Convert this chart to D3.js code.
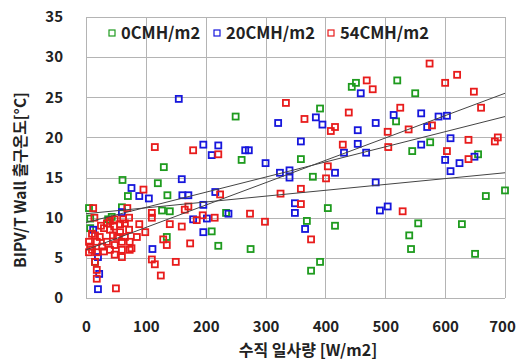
<!DOCTYPE html>
<html>
<head>
<meta charset="utf-8">
<script src="https://cdn.jsdelivr.net/npm/d3@7"></script>
<style>
  html, body { margin: 0; padding: 0; background: #fff; }
  svg text { font-family: "Noto Sans CJK KR", "Noto Sans", sans-serif; font-weight: bold; fill: #222; }
</style>
</head>
<body>
<div id="container"></div>
<script>
// series: [irradiance W/m2, outlet temp C]
const series0 = [
    [5, 11.2], [7, 9.9], [7, 8.7], [15, 4.5], [37, 9.8], [43, 10.1], [60, 11.3], [61, 14.7],
    [70, 12.7], [120, 14.3], [127, 10.9], [130, 16.3], [136, 12.8], [140, 10.8], [135, 7.6],
    [210, 8.3], [221, 6.5], [234, 10.6], [250, 22.6], [260, 17.2], [275, 6.1], [359, 17.3],
    [369, 9.6], [376, 3.4], [379, 15.1], [391, 23.6], [391, 4.5], [404, 11.2], [416, 9.0],
    [444, 26.3], [451, 26.8], [518, 22.0], [520, 27.1], [540, 7.8], [543, 6.1], [545, 18.3],
    [550, 25.5], [555, 9.3], [575, 19.4], [628, 9.2], [650, 5.5], [655, 17.9], [668, 12.7],
    [700, 13.4]
];
const series20 = [
    [12, 8.5], [20, 5.1], [22, 3.0], [20, 1.1], [60, 10.7], [76, 13.7], [89, 12.7], [105, 12.4],
    [111, 6.1], [155, 24.8], [160, 14.8], [161, 12.8], [171, 12.8], [179, 9.8], [196, 19.1],
    [196, 11.6], [196, 8.2], [202, 9.9], [210, 17.8], [216, 13.2], [221, 19.0], [238, 10.5],
    [266, 18.4], [272, 18.4], [300, 16.8], [321, 21.8], [324, 15.6], [340, 15.9], [340, 15.0],
    [349, 11.8], [349, 10.6], [359, 19.5], [366, 8.6], [384, 22.5], [395, 21.6], [416, 15.6],
    [431, 18.1], [454, 20.9], [454, 19.2], [459, 25.5], [468, 18.1], [484, 21.8], [484, 14.4],
    [491, 10.9], [504, 11.4], [514, 22.8], [560, 23.0], [560, 19.1], [570, 21.3], [589, 22.6],
    [600, 17.2], [603, 22.7], [609, 19.9], [609, 15.8], [624, 16.8], [649, 17.6]
];
const series54 = [
    [5, 7.0], [7, 6.4], [5, 5.7], [12, 11.2], [14, 10.0], [15, 7.8], [18, 7.0], [18, 5.7],
    [23, 7.6], [27, 6.4], [30, 8.7], [35, 9.3], [35, 7.0], [40, 6.0], [47, 8.9], [48, 9.8],
    [48, 6.6], [48, 5.4], [52, 7.6], [57, 9.2], [57, 8.2], [60, 7.0], [60, 6.0], [60, 5.1],
    [65, 9.3], [69, 11.2], [72, 10.0], [72, 8.5], [73, 7.0], [73, 6.0], [76, 6.2], [85, 7.6],
    [89, 9.2], [96, 13.5], [99, 8.2], [110, 10.6], [110, 10.0], [110, 4.8], [115, 4.2],
    [125, 2.8], [129, 7.3], [135, 6.6], [140, 9.2], [150, 4.5], [160, 8.9], [165, 11.0],
    [171, 11.4], [174, 6.8], [185, 9.7], [195, 10.3], [215, 10.0], [224, 12.9], [15, 4.5],
    [18, 3.5], [18, 2.4], [50, 1.2], [40, 8.5], [25, 9.0], [10, 8.0], [45, 7.8], [65, 7.6],
    [30, 5.8], [10, 6.0], [62, 9.8], [40, 9.6],
    [115, 18.8], [179, 18.4], [221, 17.9], [274, 10.5], [299, 9.5], [325, 13.0], [334, 24.3],
    [359, 13.6], [359, 11.7], [365, 22.3], [376, 7.3], [401, 14.9], [404, 16.4], [409, 20.8],
    [416, 21.3], [429, 19.1], [439, 23.1], [469, 27.1], [479, 26.0], [504, 20.7], [505, 18.8],
    [525, 23.7], [529, 10.8], [539, 21.0], [574, 29.2], [578, 21.5], [600, 26.8], [603, 18.3],
    [620, 27.8], [639, 19.7], [639, 17.3], [648, 25.7], [660, 23.7], [683, 19.5], [688, 20.0]
];

// trend line end points
const trend0 = [[0, 10.5], [700, 15.6]];
const trend20 = [[0, 9.4], [700, 22.6]];
const trend54 = [[0, 6.0], [700, 25.5]];

const seriesNames = ["0CMH/m2", "20CMH/m2", "54CMH/m2"];
const seriesColors = ["#1e9b1e", "#1616dc", "#e81c1c"];
const xTicks = [0, 100, 200, 300, 400, 500, 600, 700];
const yTicks = [0, 5, 10, 15, 20, 25, 30, 35];
const xTitle = "수직 일사량 [W/m2]";
const yTitle = "BIPV/T Wall 출구온도[°C]";

const width = 517, height = 364;
const margin = {left: 86, right: 12, top: 17, bottom: 66};

const svg = d3.select("#container").append("svg")
    .attr("width", width)
    .attr("height", height);

const x = d3.scaleLinear().domain([0, 700]).range([margin.left, width - margin.right]);
const y = d3.scaleLinear().domain([0, 35]).range([height - margin.bottom, margin.top]);

// grid
const grid = svg.append("g").attr("stroke", "#b4b4b4").attr("stroke-width", 1);
grid.selectAll(".gx").data(xTicks).join("line")
    .attr("x1", d => Math.round(x(d)) + 0.5).attr("x2", d => Math.round(x(d)) + 0.5)
    .attr("y1", y(0)).attr("y2", y(35));
grid.selectAll(".gy").data(yTicks).join("line")
    .attr("y1", d => Math.round(y(d)) + 0.5).attr("y2", d => Math.round(y(d)) + 0.5)
    .attr("x1", x(0)).attr("x2", x(700));

// axes (labels only)
const xAxis = svg.append("g")
    .attr("transform", `translate(0,${y(0) + 20})`)
    .call(d3.axisBottom(x).tickValues(xTicks).tickSize(0).tickFormat(d3.format("d")));
xAxis.select(".domain").remove();
xAxis.selectAll("text")
    .attr("font-size", 15).attr("font-family", null).attr("dy", "0.71em")
    .attr("dx", d => d === 700 ? -3 : 0);

const yAxis = svg.append("g")
    .attr("transform", `translate(${x(0) - 20},0)`)
    .call(d3.axisLeft(y).tickValues(yTicks).tickSize(0).tickFormat(d3.format("d")));
yAxis.select(".domain").remove();
yAxis.selectAll("text").attr("font-size", 15).attr("font-family", null);

// points
const allSeries = [series0, series20, series54];
const s = 6;
allSeries.forEach((data, i) => {
    svg.append("g")
        .attr("fill", "none")
        .attr("stroke", seriesColors[i])
        .attr("stroke-width", 1.8)
        .selectAll("rect")
        .data(data)
        .join("rect")
        .attr("x", d => x(d[0]) - s / 2)
        .attr("y", d => y(d[1]) - s / 2)
        .attr("width", s)
        .attr("height", s);
});

// trend lines
const line = d3.line().x(d => x(d[0])).y(d => y(d[1]));
svg.append("g")
    .attr("fill", "none")
    .attr("stroke", "#444")
    .attr("stroke-width", 1)
    .selectAll("path")
    .data([trend0, trend20, trend54])
    .join("path")
    .attr("d", line);

// legend
const legendX = [112, 217, 331];
const legend = svg.append("g");
seriesNames.forEach((name, i) => {
    legend.append("rect")
        .attr("x", legendX[i] - 3).attr("y", 30)
        .attr("width", 6).attr("height", 6)
        .attr("fill", "none").attr("stroke", seriesColors[i]).attr("stroke-width", 1.2);
    legend.append("text")
        .attr("x", legendX[i] + 9).attr("y", 33)
        .attr("dy", "0.36em")
        .attr("font-size", 16.5)
        .text(name);
});

// axis titles
svg.append("text")
    .attr("x", 308).attr("y", 350)
    .attr("text-anchor", "middle").attr("dy", "0.36em")
    .attr("font-size", 16)
    .text(xTitle);
svg.append("text")
    .attr("transform", `translate(20,180) rotate(-90)`)
    .attr("text-anchor", "middle").attr("dy", "0.36em")
    .attr("font-size", 15.5)
    .text(yTitle);
</script>
</body>
</html>
